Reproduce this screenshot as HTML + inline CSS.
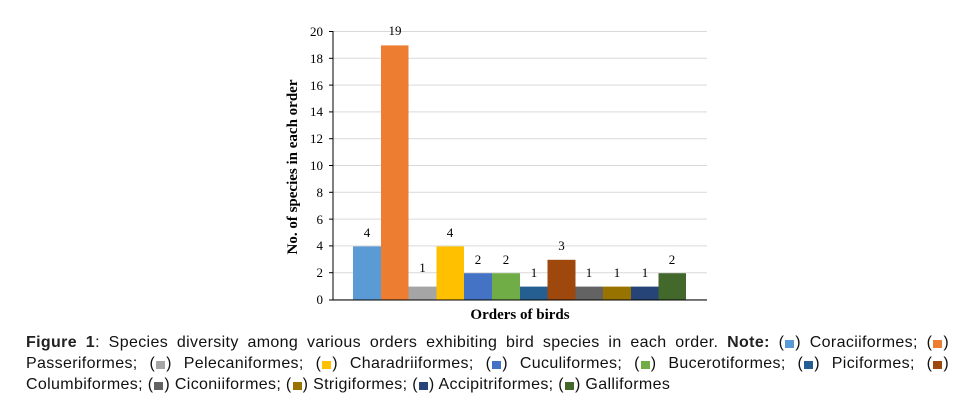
<!DOCTYPE html>
<html><head><meta charset="utf-8"><style>
body{margin:0;width:980px;height:419px;background:#fff;position:relative;overflow:hidden}
svg{position:absolute;left:0;top:0}
.cap{position:absolute;left:26px;width:923px;font-family:"Liberation Sans",sans-serif;font-size:16px;color:#111;line-height:21px;top:332px;letter-spacing:0.35px}
.cap div{text-align:justify;text-align-last:justify;white-space:nowrap}
.cap div.l{text-align-last:left}
.sq{display:inline-block;width:9px;height:8px;margin:0 1px;vertical-align:-1px}
b{font-weight:bold;color:#222}
</style></head><body>
<svg width="980" height="330" font-family="Liberation Serif,serif">
<g stroke="#d9d9d9" stroke-width="1">
<line x1="333" x2="707" y1="31.5" y2="31.5"/><line x1="333" x2="707" y1="58.3" y2="58.3"/>
<line x1="333" x2="707" y1="85.1" y2="85.1"/><line x1="333" x2="707" y1="111.9" y2="111.9"/>
<line x1="333" x2="707" y1="138.7" y2="138.7"/><line x1="333" x2="707" y1="165.5" y2="165.5"/>
<line x1="333" x2="707" y1="192.3" y2="192.3"/><line x1="333" x2="707" y1="219.1" y2="219.1"/>
<line x1="333" x2="707" y1="245.9" y2="245.9"/><line x1="333" x2="707" y1="272.7" y2="272.7"/>
<line x1="333" x2="707" y1="299.5" y2="299.5"/>
</g>
<g>
<rect x="353" y="246.4" width="28" height="53.6" fill="#5B9BD5"/>
<rect x="381" y="45.4" width="27.5" height="254.6" fill="#ED7D31"/>
<rect x="408.5" y="286.6" width="28" height="13.4" fill="#A5A5A5"/>
<rect x="436.5" y="246.4" width="27.5" height="53.6" fill="#FFC000"/>
<rect x="464" y="273.2" width="28" height="26.8" fill="#4472C4"/>
<rect x="492" y="273.2" width="28" height="26.8" fill="#70AD47"/>
<rect x="520" y="286.6" width="27.5" height="13.4" fill="#255E91"/>
<rect x="547.5" y="259.8" width="28" height="40.2" fill="#9E480E"/>
<rect x="575.5" y="286.6" width="27.5" height="13.4" fill="#636363"/>
<rect x="603" y="286.6" width="28" height="13.4" fill="#997300"/>
<rect x="631" y="286.6" width="27.5" height="13.4" fill="#264478"/>
<rect x="658.5" y="273.2" width="27.5" height="26.8" fill="#43682B"/>
</g>
<line x1="333" x2="333" y1="31" y2="300" stroke="#000"/>
<line x1="329" x2="707" y1="300" y2="300" stroke="#000"/>
<g stroke="#000"><line x1="329" x2="333" y1="31.5" y2="31.5"/><line x1="329" x2="333" y1="58.3" y2="58.3"/><line x1="329" x2="333" y1="85.1" y2="85.1"/><line x1="329" x2="333" y1="111.9" y2="111.9"/><line x1="329" x2="333" y1="138.7" y2="138.7"/><line x1="329" x2="333" y1="165.5" y2="165.5"/><line x1="329" x2="333" y1="192.3" y2="192.3"/><line x1="329" x2="333" y1="219.1" y2="219.1"/><line x1="329" x2="333" y1="245.9" y2="245.9"/><line x1="329" x2="333" y1="272.7" y2="272.7"/></g>
<g font-size="13" text-anchor="end" fill="#000">
<text x="323" y="36">20</text><text x="323" y="63">18</text><text x="323" y="90">16</text><text x="323" y="116">14</text><text x="323" y="143">12</text><text x="323" y="170">10</text><text x="323" y="197">8</text><text x="323" y="224">6</text><text x="323" y="250">4</text><text x="323" y="277">2</text><text x="323" y="304">0</text>
</g>
<g font-size="13" text-anchor="middle" fill="#000">
<text x="367" y="237">4</text><text x="395" y="35">19</text><text x="422.5" y="272">1</text><text x="450" y="237">4</text><text x="478" y="264">2</text><text x="506" y="264">2</text><text x="534" y="277">1</text><text x="561.5" y="250">3</text><text x="589" y="277">1</text><text x="617" y="277">1</text><text x="645" y="277">1</text><text x="672" y="264">2</text>
</g>
<text x="520" y="319" font-size="15" font-weight="bold" text-anchor="middle">Orders of birds</text>
<text transform="translate(297,167) rotate(-90)" font-size="15" font-weight="bold" text-anchor="middle">No. of species in each order</text>
</svg>
<div class="cap">
<div><b>Figure 1</b>: Species diversity among various orders exhibiting bird species in each order. <b>Note:</b> (<span class="sq" style="background:#5B9BD5"></span>) Coraciiformes; (<span class="sq" style="background:#ED7D31"></span>)</div>
<div>Passeriformes; (<span class="sq" style="background:#A5A5A5"></span>) Pelecaniformes; (<span class="sq" style="background:#FFC000"></span>) Charadriiformes; (<span class="sq" style="background:#4472C4"></span>) Cuculiformes; (<span class="sq" style="background:#70AD47"></span>) Bucerotiformes; (<span class="sq" style="background:#255E91"></span>) Piciformes; (<span class="sq" style="background:#9E480E"></span>)</div>
<div class="l">Columbiformes; (<span class="sq" style="background:#636363"></span>) Ciconiiformes; (<span class="sq" style="background:#997300"></span>) Strigiformes; (<span class="sq" style="background:#264478"></span>) Accipitriformes; (<span class="sq" style="background:#43682B"></span>) Galliformes</div>
</div>
</body></html>
